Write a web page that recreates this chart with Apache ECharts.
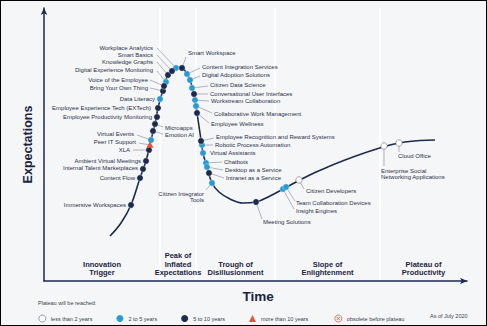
<!DOCTYPE html>
<html><head><meta charset="utf-8">
<script src="https://cdn.jsdelivr.net/npm/echarts@6/dist/echarts.min.js"></script>
<style>
html,body{margin:0;padding:0;background:#fff}
#wrap{position:relative;width:487px;height:326px}
#c{width:487px;height:326px}
#f{position:absolute;left:0;top:0;width:487px;height:326px;border:1px solid #000;box-sizing:border-box;pointer-events:none}
</style>
</head><body>
<div id="wrap"><div id="c"></div><div id="f"></div></div>
<script>
// ---- data (time / expectations units) ----
const curveTime   = [66, 77, 87, 96, 102, 107, 111, 114, 117, 120, 124, 129, 134, 138, 142, 146, 150, 153, 156, 159, 163, 168, 175, 186, 199, 212, 226, 241, 256, 271, 286, 301, 316, 331, 346, 361, 376, 391];
const curveExpect = [45, 58, 76, 103, 120, 141, 157, 173, 184, 195, 206, 211, 214, 213, 209, 201, 187, 168, 148, 128, 114, 98, 89, 82, 78, 79, 85, 93, 101, 108.5, 115, 121, 126.5, 131.5, 136, 139, 140.5, 141];

const techNames = [
  'Immersive Workspaces', 'Content Flow', 'Internal Talent Marketplaces', 'Ambient Virtual Meetings', 'XLA',
  'Peer IT Support', 'Virtual Events', 'Emotion AI', 'Microapps', 'Employee Productivity Monitoring',
  'Employee Experience Tech (EXTech)', 'Data Literacy', 'Bring Your Own Thing', 'Voice of the Employee',
  'Digital Experience Monitoring', 'Knowledge Graphs', 'Smart Basics', 'Workplace Analytics', 'Smart Workspace',
  'Content Integration Services', 'Digital Adoption Solutions', 'Citizen Data Science', 'Conversational User Interfaces',
  'Workstream Collaboration', 'Collaborative Work Management', 'Employee Wellness', 'Employee Recognition and Reward Systems',
  'Robotic Process Automation', 'Virtual Assistants', 'Chatbots', 'Desktop as a Service', 'Intranet as a Service',
  'Citizen Integrator\nTools', 'Meeting Solutions', 'Insight Engines', 'Team Collaboration Devices', 'Citizen Developers',
  'Enterprise Social\nNetworking Applications', 'Cloud Office'
];
const techTime   = [87, 96, 99, 102, 105, 106, 107, 109, 111, 113, 114, 116, 119, 120, 122, 124, 128, 132, 138, 143, 146, 148, 150, 151, 152, 153, 157, 158, 159, 162, 163, 165, 168, 212, 239, 242, 255, 340, 355];
const techExpect = [76, 103, 112, 120, 131, 136, 141, 150, 157, 164, 173, 182, 190, 195, 199, 206, 210, 213, 213, 207, 201, 193, 187, 181, 175, 168, 140, 136, 128, 118, 114, 108, 98, 79, 92, 94, 101, 135, 138];
// 0: less than 2 years, 1: 2 to 5 years, 2: 5 to 10 years, 3: more than 10 years
const techPlateau = [2, 2, 2, 2, 2, 3, 1, 2, 2, 2, 2, 1, 2, 2, 1, 2, 2, 1, 2, 1, 1, 1, 2, 1, 1, 2, 2, 1, 1, 1, 1, 2, 1, 2, 1, 1, 0, 0, 0];

const plateauLabels = ['less than 2 years', '2 to 5 years', '5 to 10 years', 'more than 10 years', 'obsolete before plateau'];
const phaseNames  = ['Innovation\nTrigger', 'Peak of\nInflated\nExpectations', 'Trough of\nDisillusionment', 'Slope of\nEnlightenment', 'Plateau of\nProductivity'];
const phaseBounds = [0, 116, 152, 231, 336, 423];
const legendTitle = 'Plateau will be reached:';
const dateNote = 'As of July 2020';

// ---- layout (label offsets in px from dot: dx, dy, align, lineEndDx, lineEndDy) ----
const labelLayout = {
  'Immersive Workspaces': [-5, 0, 'right'],
  'Content Flow': [-5, 0, 'right'],
  'Internal Talent Marketplaces': [-5, -1, 'right'],
  'Ambient Virtual Meetings': [-5, 0, 'right'],
  'XLA': [-19, 0, 'right', -16, 0],
  'Peer IT Support': [-14, -3, 'right', -11, -2],
  'Virtual Events': [-17, -6, 'right', -14, -5],
  'Emotion AI': [12, 4, 'left', 10, 3],
  'Microapps': [10, 4, 'left', 8, 3],
  'Employee Productivity Monitoring': [-5, 0, 'right'],
  'Employee Experience Tech (EXTech)': [-7, 0, 'right'],
  'Data Literacy': [-5, 0, 'right'],
  'Bring Your Own Thing': [-15, -3, 'right', -13, -3],
  'Voice of the Employee': [-16, -6, 'right', -14, -6],
  'Digital Experience Monitoring': [-13, -12, 'right', -9, -11],
  'Knowledge Graphs': [-15, -13, 'right', -11, -13],
  'Smart Basics': [-19, -16, 'right', -15, -16],
  'Workplace Analytics': [-23, -20, 'right', -19, -20],
  'Smart Workspace': [6, -15, 'left', 4, -11],
  'Content Integration Services': [15, -7, 'left', 13, -6],
  'Digital Adoption Solutions': [12, -5, 'left', 10, -4],
  'Citizen Data Science': [18, -3, 'left', 16, -2],
  'Conversational User Interfaces': [16, 0, 'left', 14, 0],
  'Workstream Collaboration': [16, 1, 'left', 14, 1],
  'Collaborative Work Management': [18, 8, 'left', 16, 7],
  'Employee Wellness': [14, 11, 'left', 12, 10],
  'Employee Recognition and Reward Systems': [15, -4, 'left', 13, -3],
  'Robotic Process Automation': [13, 0, 'left', 11, 0],
  'Virtual Assistants': [7, 0, 'left'],
  'Chatbots': [18, -1, 'left', 16, -1],
  'Desktop as a Service': [18, 3, 'left', 16, 3],
  'Intranet as a Service': [17, 5, 'left', 15, 5],
  'Citizen Integrator\nTools': [-8, 14, 'right', -6, 7],
  'Meeting Solutions': [7, 20, 'left', 6, 17],
  'Insight Engines': [13, 22, 'left', 11, 20],
  'Team Collaboration Devices': [10, 16, 'left', 9, 14],
  'Citizen Developers': [7, 11, 'left', 5, 9],
  'Enterprise Social\nNetworking Applications': [-3, 28, 'left', 0, 20],
  'Cloud Office': [-1, 13, 'left', 0, 9]
};

const FONT = "'Liberation Sans', Arial, sans-serif";
const NAVY = '#1c2a4e';
const dotFill = ['#ffffff', '#2b9ad4', '#1c2a4e', '#e5533a', '#e5533a'];

function renderTech(params, api) {
  const i = api.value(2);
  const p = api.coord([api.value(0), api.value(1)]);
  const lay = labelLayout[techNames[i]] || [6, 0, 'left'];
  const cat = techPlateau[i];
  const children = [];
  if (lay[3] !== undefined) {
    children.push({type: 'line', shape: {x1: p[0], y1: p[1], x2: p[0] + lay[3], y2: p[1] + lay[4]},
      style: {stroke: '#7f8796', lineWidth: 0.6}});
  }
  if (cat === 3) {
    children.push({type: 'polygon', shape: {points: [[p[0], p[1] - 3.6], [p[0] + 3.6, p[1] + 2.8], [p[0] - 3.6, p[1] + 2.8]]},
      style: {fill: dotFill[3]}});
  } else {
    children.push({type: 'circle', shape: {cx: p[0], cy: p[1], r: 3.2},
      style: cat === 0 ? {fill: '#ffffff', stroke: '#7a808c', lineWidth: 0.7} : {fill: dotFill[cat], stroke: '#f5f6f8', lineWidth: 0.4}});
  }
  children.push({type: 'text', x: p[0] + lay[0], y: p[1] + lay[1],
    style: {text: techNames[i], fill: '#2a3248', fontSize: 6, fontFamily: FONT, align: lay[2], verticalAlign: 'middle', lineHeight: 6.5}});
  return {type: 'group', children};
}

const techSeries = plateauLabels.map((lab, k) => ({
  type: 'custom', name: lab, z: 5, silent: true,
  itemStyle: {color: dotFill[k]},
  renderItem: renderTech,
  data: techNames.map((n, i) => [techTime[i], techExpect[i], i]).filter(d => techPlateau[d[2]] === k)
}));

const phaseAreas = phaseNames.map((n, i) => [{name: n, xAxis: phaseBounds[i]}, {xAxis: phaseBounds[i + 1]}]);
const phaseLines = phaseBounds.slice(1, -1).map(b => ({xAxis: b}));

const option = {
  backgroundColor: '#f5f6f8',
  animation: false,
  textStyle: {fontFamily: FONT},
  title: [
    {text: legendTitle, left: 38, top: 300, padding: 0, textStyle: {fontSize: 5.5, fontWeight: 'normal', color: '#3a3f4a', fontFamily: FONT}},
    {text: dateNote, left: 430, top: 313, padding: 0, textStyle: {fontSize: 5.5, fontWeight: 'normal', color: '#3a3f4a', fontFamily: FONT}}
  ],
  legend: {
    left: 38.5, top: 312.5, padding: 0, itemWidth: 7, itemHeight: 7, itemGap: 24,
    selectedMode: false,
    textStyle: {fontSize: 5.5, color: '#3a3f4a', fontFamily: FONT},
    data: [
      {name: plateauLabels[0], icon: 'circle', itemStyle: {color: '#ffffff', borderColor: '#6d7380', borderWidth: 0.7}},
      {name: plateauLabels[1], icon: 'circle', itemStyle: {color: dotFill[1]}},
      {name: plateauLabels[2], icon: 'circle', itemStyle: {color: dotFill[2]}},
      {name: plateauLabels[3], icon: 'triangle', itemStyle: {color: dotFill[3]}},
      {name: plateauLabels[4], icon: 'path://M12,2A10,10,0,1,1,11.99,2ZM7,7L17,17M17,7L7,17', itemStyle: {color: 'none', borderColor: '#e5533a', borderWidth: 0.8}}
    ]
  },
  grid: {left: 44, right: 20, top: 8, bottom: 45},
  xAxis: {
    type: 'value', min: 0, max: 423,
    axisLine: {show: true, symbol: ['none', 'arrow'], symbolSize: [5, 7], lineStyle: {color: NAVY, width: 1.5}},
    axisTick: {show: false}, axisLabel: {show: false}, splitLine: {show: false},
    name: 'Time', nameLocation: 'middle', nameGap: 8,
    nameTextStyle: {fontSize: 13.5, fontWeight: 'bold', color: '#1a2440', fontFamily: FONT, padding: [0, 0, 0, 5]}
  },
  yAxis: {
    type: 'value', min: 0, max: 273,
    axisLine: {show: true, symbol: ['none', 'arrow'], symbolSize: [5, 7], lineStyle: {color: NAVY, width: 1.5}},
    axisTick: {show: false}, axisLabel: {show: false}, splitLine: {show: false},
    name: 'Expectations', nameLocation: 'middle', nameGap: 10, nameRotate: 90,
    nameTextStyle: {fontSize: 12.5, fontWeight: 'bold', color: '#1a2440', fontFamily: FONT}
  },
  series: [
    {
      type: 'line', name: 'separators', data: [], silent: true, z: 0,
      markLine: {
        z: 0, silent: true, symbol: ['none', 'none'], label: {show: false},
        lineStyle: {color: '#ffffff', width: 2, type: 'solid'},
        data: phaseLines
      }
    },
    {
      type: 'line', name: 'phases', data: [], silent: true, z: 1,
      markArea: {
        z: 1, silent: true, itemStyle: {color: 'rgba(0,0,0,0)'},
        label: {position: 'insideBottom', distance: 4, fontSize: 7.5, fontWeight: 'bold', lineHeight: 8.5, color: '#1a2440', fontFamily: FONT, overflow: 'none', width: 80, align: 'center'},
        data: phaseAreas
      }
    },
    {
      type: 'line', name: 'curve', z: 2, silent: true,
      data: curveTime.map((t, i) => [t, curveExpect[i]]),
      smooth: 0.4, showSymbol: false, symbol: 'none',
      lineStyle: {color: NAVY, width: 1.6}
    },
    ...techSeries
  ]
};

const chart = echarts.init(document.getElementById('c'), null, {renderer: 'svg'});
chart.setOption(option);
</script>
</body></html>
